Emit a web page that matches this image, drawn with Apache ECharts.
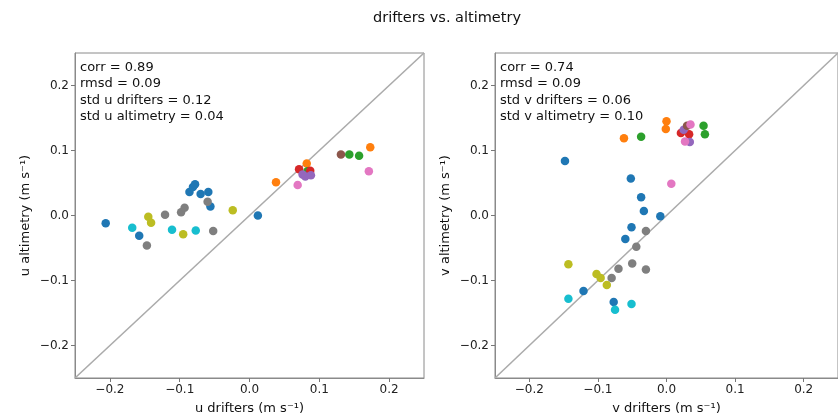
<!DOCTYPE html>
<html>
<head>
<meta charset="utf-8">
<script src="https://cdn.jsdelivr.net/npm/echarts@6/dist/echarts.min.js"></script>
<style>
  html, body { margin: 0; padding: 0; background: #fff; }
  #chart { width: 838px; height: 420px; }
</style>
</head>
<body>
<div id="chart"></div>
<script>
// Drifter colour groups (one colour per drifter track)
const trackColors = ['#1f77b4', '#ff7f0e', '#2ca02c', '#d62728', '#9467bd',
                     '#8c564b', '#e377c2', '#7f7f7f', '#bcbd22', '#17becf'];

// Zonal velocity: drifters vs altimetry, with track index of each point
const uDrifters = [-0.206, -0.158, -0.086, -0.081, -0.078, -0.070, -0.059, -0.056, 0.012,
                   0.038, 0.082, 0.173,
                   0.083, 0.143, 0.157,
                   0.071, 0.087,
                   0.076, 0.080, 0.088,
                   0.131,
                   0.069, 0.171,
                   -0.147, -0.121, -0.098, -0.093, -0.060, -0.052,
                   -0.145, -0.141, -0.095, -0.024,
                   -0.168, -0.111, -0.077];
const uAltimetry = [-0.012, -0.031, 0.036, 0.044, 0.048, 0.033, 0.036, 0.014, 0.000,
                    0.051, 0.080, 0.105,
                    0.068, 0.094, 0.092,
                    0.071, 0.069,
                    0.063, 0.060, 0.062,
                    0.094,
                    0.047, 0.068,
                    -0.046, 0.001, 0.005, 0.012, 0.021, -0.024,
                    -0.002, -0.011, -0.029, 0.008,
                    -0.019, -0.022, -0.023];
const uTrack = [0, 0, 0, 0, 0, 0, 0, 0, 0,
                1, 1, 1,
                2, 2, 2,
                3, 3,
                4, 4, 4,
                5,
                6, 6,
                7, 7, 7, 7, 7, 7,
                8, 8, 8, 8,
                9, 9, 9];

// Meridional velocity: drifters vs altimetry
const vDrifters = [-0.148, -0.052, -0.037, -0.033, -0.009, -0.051, -0.060, -0.121, -0.077,
                   -0.062, 0.000, -0.001,
                   -0.037, 0.054, 0.056,
                   0.021, 0.033,
                   0.025, 0.034,
                   0.030,
                   0.035, 0.027, 0.007,
                   -0.030, -0.044, -0.050, -0.070, -0.030, -0.080,
                   -0.143, -0.102, -0.096, -0.087,
                   -0.143, -0.075, -0.051];
const vAltimetry = [0.084, 0.057, 0.028, 0.007, -0.001, -0.018, -0.036, -0.116, -0.133,
                    0.119, 0.145, 0.133,
                    0.121, 0.138, 0.125,
                    0.127, 0.125,
                    0.132, 0.113,
                    0.138,
                    0.140, 0.114, 0.049,
                    -0.024, -0.048, -0.074, -0.082, -0.083, -0.096,
                    -0.075, -0.090, -0.096, -0.107,
                    -0.128, -0.145, -0.136];
const vTrack = [0, 0, 0, 0, 0, 0, 0, 0, 0,
                1, 1, 1,
                2, 2, 2,
                3, 3,
                4, 4,
                5,
                6, 6, 6,
                7, 7, 7, 7, 7, 7,
                8, 8, 8, 8,
                9, 9, 9];

const tickValues = [-0.2, -0.1, 0.0, 0.1, 0.2];
const axisRange = [-0.25, 0.25];

const statsU = ['corr = 0.89', 'rmsd = 0.09', 'std u drifters = 0.12', 'std u altimetry = 0.04'];
const statsV = ['corr = 0.74', 'rmsd = 0.09', 'std v drifters = 0.06', 'std v altimetry = 0.10'];

const FONT = 'DejaVu Sans';

function fmtTick(v) {
  const s = Math.abs(v).toFixed(1);
  return v < -1e-9 ? '\u2212' + s : s;
}

function valueAxis(gridIndex, name, isY) {
  return {
    type: 'value',
    gridIndex: gridIndex,
    min: axisRange[0],
    max: axisRange[1],
    name: name,
    nameLocation: 'middle',
    nameGap: isY ? 43 : 24,
    nameRotate: isY ? 90 : 0,
    nameTextStyle: { fontFamily: FONT, fontSize: 13, color: '#111' },
    axisLine: { show: true, onZero: false, lineStyle: { color: '#8a8a8a', width: 1 } },
    axisTick: { show: true, length: 4, customValues: tickValues,
                lineStyle: { color: '#777', width: 1 } },
    axisLabel: { show: true, customValues: tickValues, formatter: fmtTick,
                 fontFamily: FONT, fontSize: 12, color: '#222', margin: 6 },
    splitLine: { show: false }
  };
}

function buildSeries(xs, ys, track, gridIdx) {
  const out = [{
    type: 'line',
    xAxisIndex: gridIdx, yAxisIndex: gridIdx,
    data: [[axisRange[0], axisRange[0]], [axisRange[1], axisRange[1]]],
    symbol: 'none', silent: true, z: 1,
    lineStyle: { color: '#ababab', width: 1.6 }
  }];
  for (let g = 0; g < trackColors.length; g++) {
    const pts = [];
    for (let i = 0; i < xs.length; i++) {
      if (track[i] === g) pts.push([xs[i], ys[i]]);
    }
    out.push({
      type: 'scatter',
      xAxisIndex: gridIdx, yAxisIndex: gridIdx,
      data: pts,
      symbolSize: 8.5,
      itemStyle: { color: trackColors[g], opacity: 1 },
      z: 2 + g,
      silent: true
    });
  }
  return out;
}

const chart = echarts.init(document.getElementById('chart'), null, { renderer: 'canvas' });

const grids = [
  { left: 75, top: 53, width: 349, height: 325 },
  { left: 495, top: 53, width: 350, height: 325 }
];

function statsText(lines, left) {
  return {
    type: 'text',
    left: left, top: 59,
    style: {
      text: lines.join('\n'),
      font: '13px "' + FONT + '"',
      fill: '#111',
      lineHeight: 16.5
    }
  };
}

chart.setOption({
  animation: false,
  backgroundColor: '#fff',
  grid: grids.map(g => Object.assign({ show: true, borderColor: '#8a8a8a', borderWidth: 1,
                                        backgroundColor: 'transparent' }, g)),
  xAxis: [
    valueAxis(0, 'u drifters (m s\u207B\u00B9)', false),
    valueAxis(1, 'v drifters (m s\u207B\u00B9)', false)
  ],
  yAxis: [
    valueAxis(0, 'u altimetry (m s\u207B\u00B9)', true),
    valueAxis(1, 'v altimetry (m s\u207B\u00B9)', true)
  ],
  graphic: [
    {
      type: 'text',
      x: 447, y: 18,
      style: {
        text: 'drifters vs. altimetry',
        font: '14.5px "' + FONT + '"',
        fill: '#111',
        align: 'center',
        verticalAlign: 'middle'
      }
    },
    statsText(statsU, 80),
    statsText(statsV, 500)
  ],
  series: buildSeries(uDrifters, uAltimetry, uTrack, 0)
    .concat(buildSeries(vDrifters, vAltimetry, vTrack, 1))
});
</script>
</body>
</html>
